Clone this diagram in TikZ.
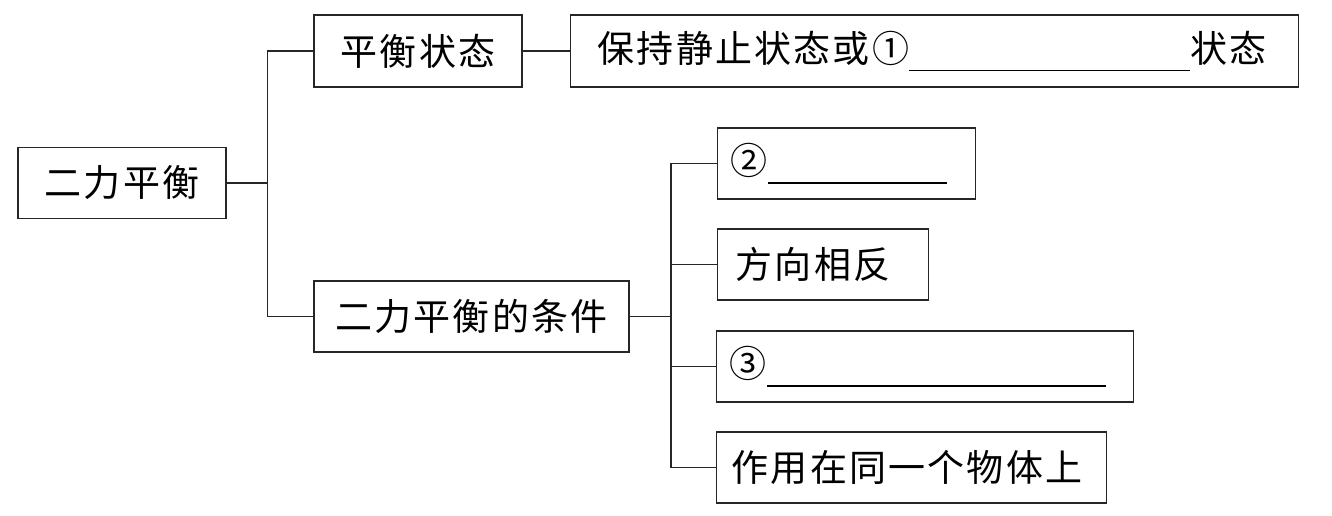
\documentclass[tikz,border=0pt]{standalone}
\usepackage{fontspec}
\setmainfont[LetterSpace=6]{Noto Sans CJK SC}
\usetikzlibrary{positioning}
\newcommand{\blank}[1]{\rule[-9pt]{#1}{1.4pt}}
\newcommand{\boxh}{71pt}

\begin{document}
\begin{tikzpicture}[x=1pt,y=-1pt,
    box/.style={draw=black!85, line width=1.3pt, minimum height=\boxh, inner sep=0pt,
                font=\fontsize{37}{40}\selectfont},
    lbox/.style={box, anchor=west, align=left, inner xsep=#1},
    link/.style={draw=black!85, line width=1.3pt}]
    \useasboundingbox (0,0) rectangle (1332,515);
    % left part
    \node[box, minimum width=208pt] (root) at (122,183) {二力平衡};
    \node[box, minimum width=208pt, minimum height=72pt] (state) at (418,51) {平衡状态};
    \node[box, minimum width=315pt] (cond) at (471.5,316.5) {二力平衡的条件};
    \node[lbox=27pt, text width=674pt, minimum height=72pt] (statedef) at (570,51)
        {保持静止状态或①\blank{281pt}状态};
    % conditions
    \node[lbox=13pt, text width=232pt] (c1) at (717,163.5) {②\blank{179pt}};
    \node[lbox=18pt, text width=175pt] (c2) at (717,264.5) {方向相反};
    \node[lbox=13pt, text width=391pt] (c3) at (716,366.5) {③\blank{339pt}};
    \node[lbox=15pt, text width=360pt] (c4) at (716,467.5) {作用在同一个物体上};

    \coordinate (j1) at (267.5,183);
    \coordinate (j2) at (671,316.5);
    \draw[link] (root.east) -- (j1);
    \draw[link] (state.west) -| (j1) |- (cond.west);
    \draw[link] (state.east) -- (statedef.west);
    \draw[link] (cond.east) -- (j2);
    \draw[link] (c1.west) -| (j2) |- (c4.west);
    \draw[link] (c2.west) -- (c2.west -| j2);
    \draw[link] (c3.west) -- (c3.west -| j2);
\end{tikzpicture}
\end{document}
